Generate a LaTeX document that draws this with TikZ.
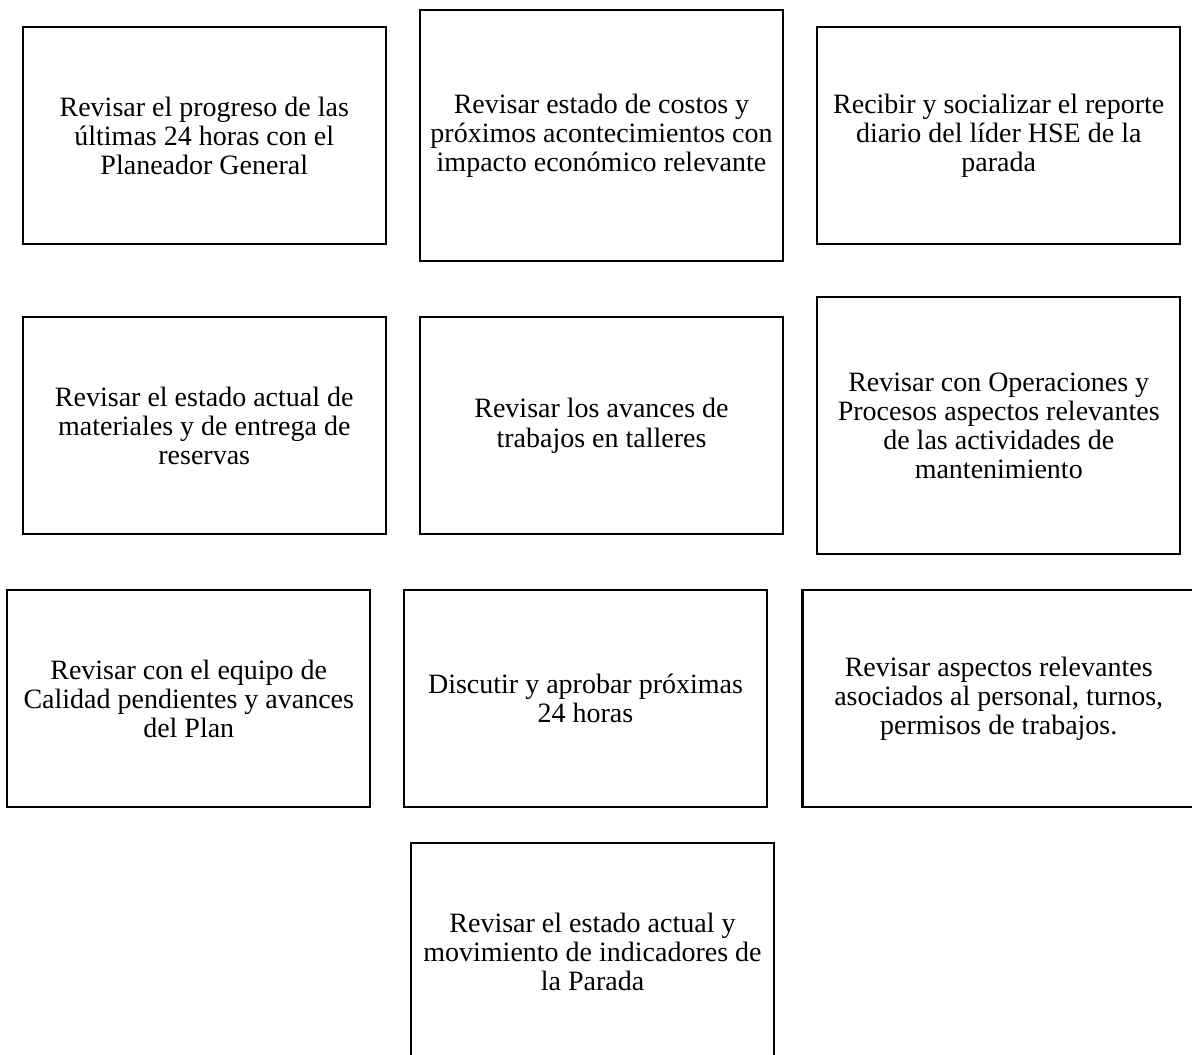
\documentclass[tikz,border=0pt]{standalone}
\usepackage{fontspec}
\setmainfont{Liberation Serif}
\begin{document}
\begin{tikzpicture}[x=0.75pt,y=-0.75pt,
  task/.style={draw=black, line width=1.6pt, fill=white, inner sep=0pt,
    align=center, font=\fontsize{21}{21.8}\selectfont},
  std/.style={task, minimum width=272pt, minimum height=163pt}]
\path[use as bounding box] (0,0) rectangle (1192,1055);
\clip (0,0) rectangle (1192,1055);

% first row
\node[std] (progreso) at (204.25,135.5)
  {Revisar el progreso de las\\últimas 24 horas con el\\Planeador General};
\node[std, minimum height=188.25pt] (costos) at (601.5,135.5)
  {Revisar estado de costos y\\próximos acontecimientos con\\impacto económico relevante};
\node[std] (hse) at (998.75,135.5)
  {Recibir y socializar el reporte\\diario del líder HSE de la\\parada};

% second row
\node[std] (materiales) at (204.25,425.75)
  {Revisar el estado actual de\\materiales y de entrega de\\reservas};
\node[std] (talleres) at (601.5,425.75)
  {Revisar los avances de\\trabajos en talleres};
\node[std, minimum height=192.75pt] (operaciones) at (998.75,425.5)
  {Revisar con Operaciones y\\Procesos aspectos relevantes\\de las actividades de\\mantenimiento};

% third row
\node[std] (calidad) at (188.75,698.5)
  {Revisar con el equipo de\\Calidad pendientes y avances\\del Plan};
\node[std] (aprobar) at (585.5,698.5)
  {Discutir y aprobar próximas\\24 horas};
\node[std, minimum width=294.4pt] (personal) at (998.75,698.5)
  {Revisar aspectos relevantes\\asociados al personal, turnos,\\permisos de trabajos.};

% last row
\node[std] (indicadores) at (592.5,951.5)
  {Revisar el estado actual y\\movimiento de indicadores de\\la Parada};
\end{tikzpicture}
\end{document}
